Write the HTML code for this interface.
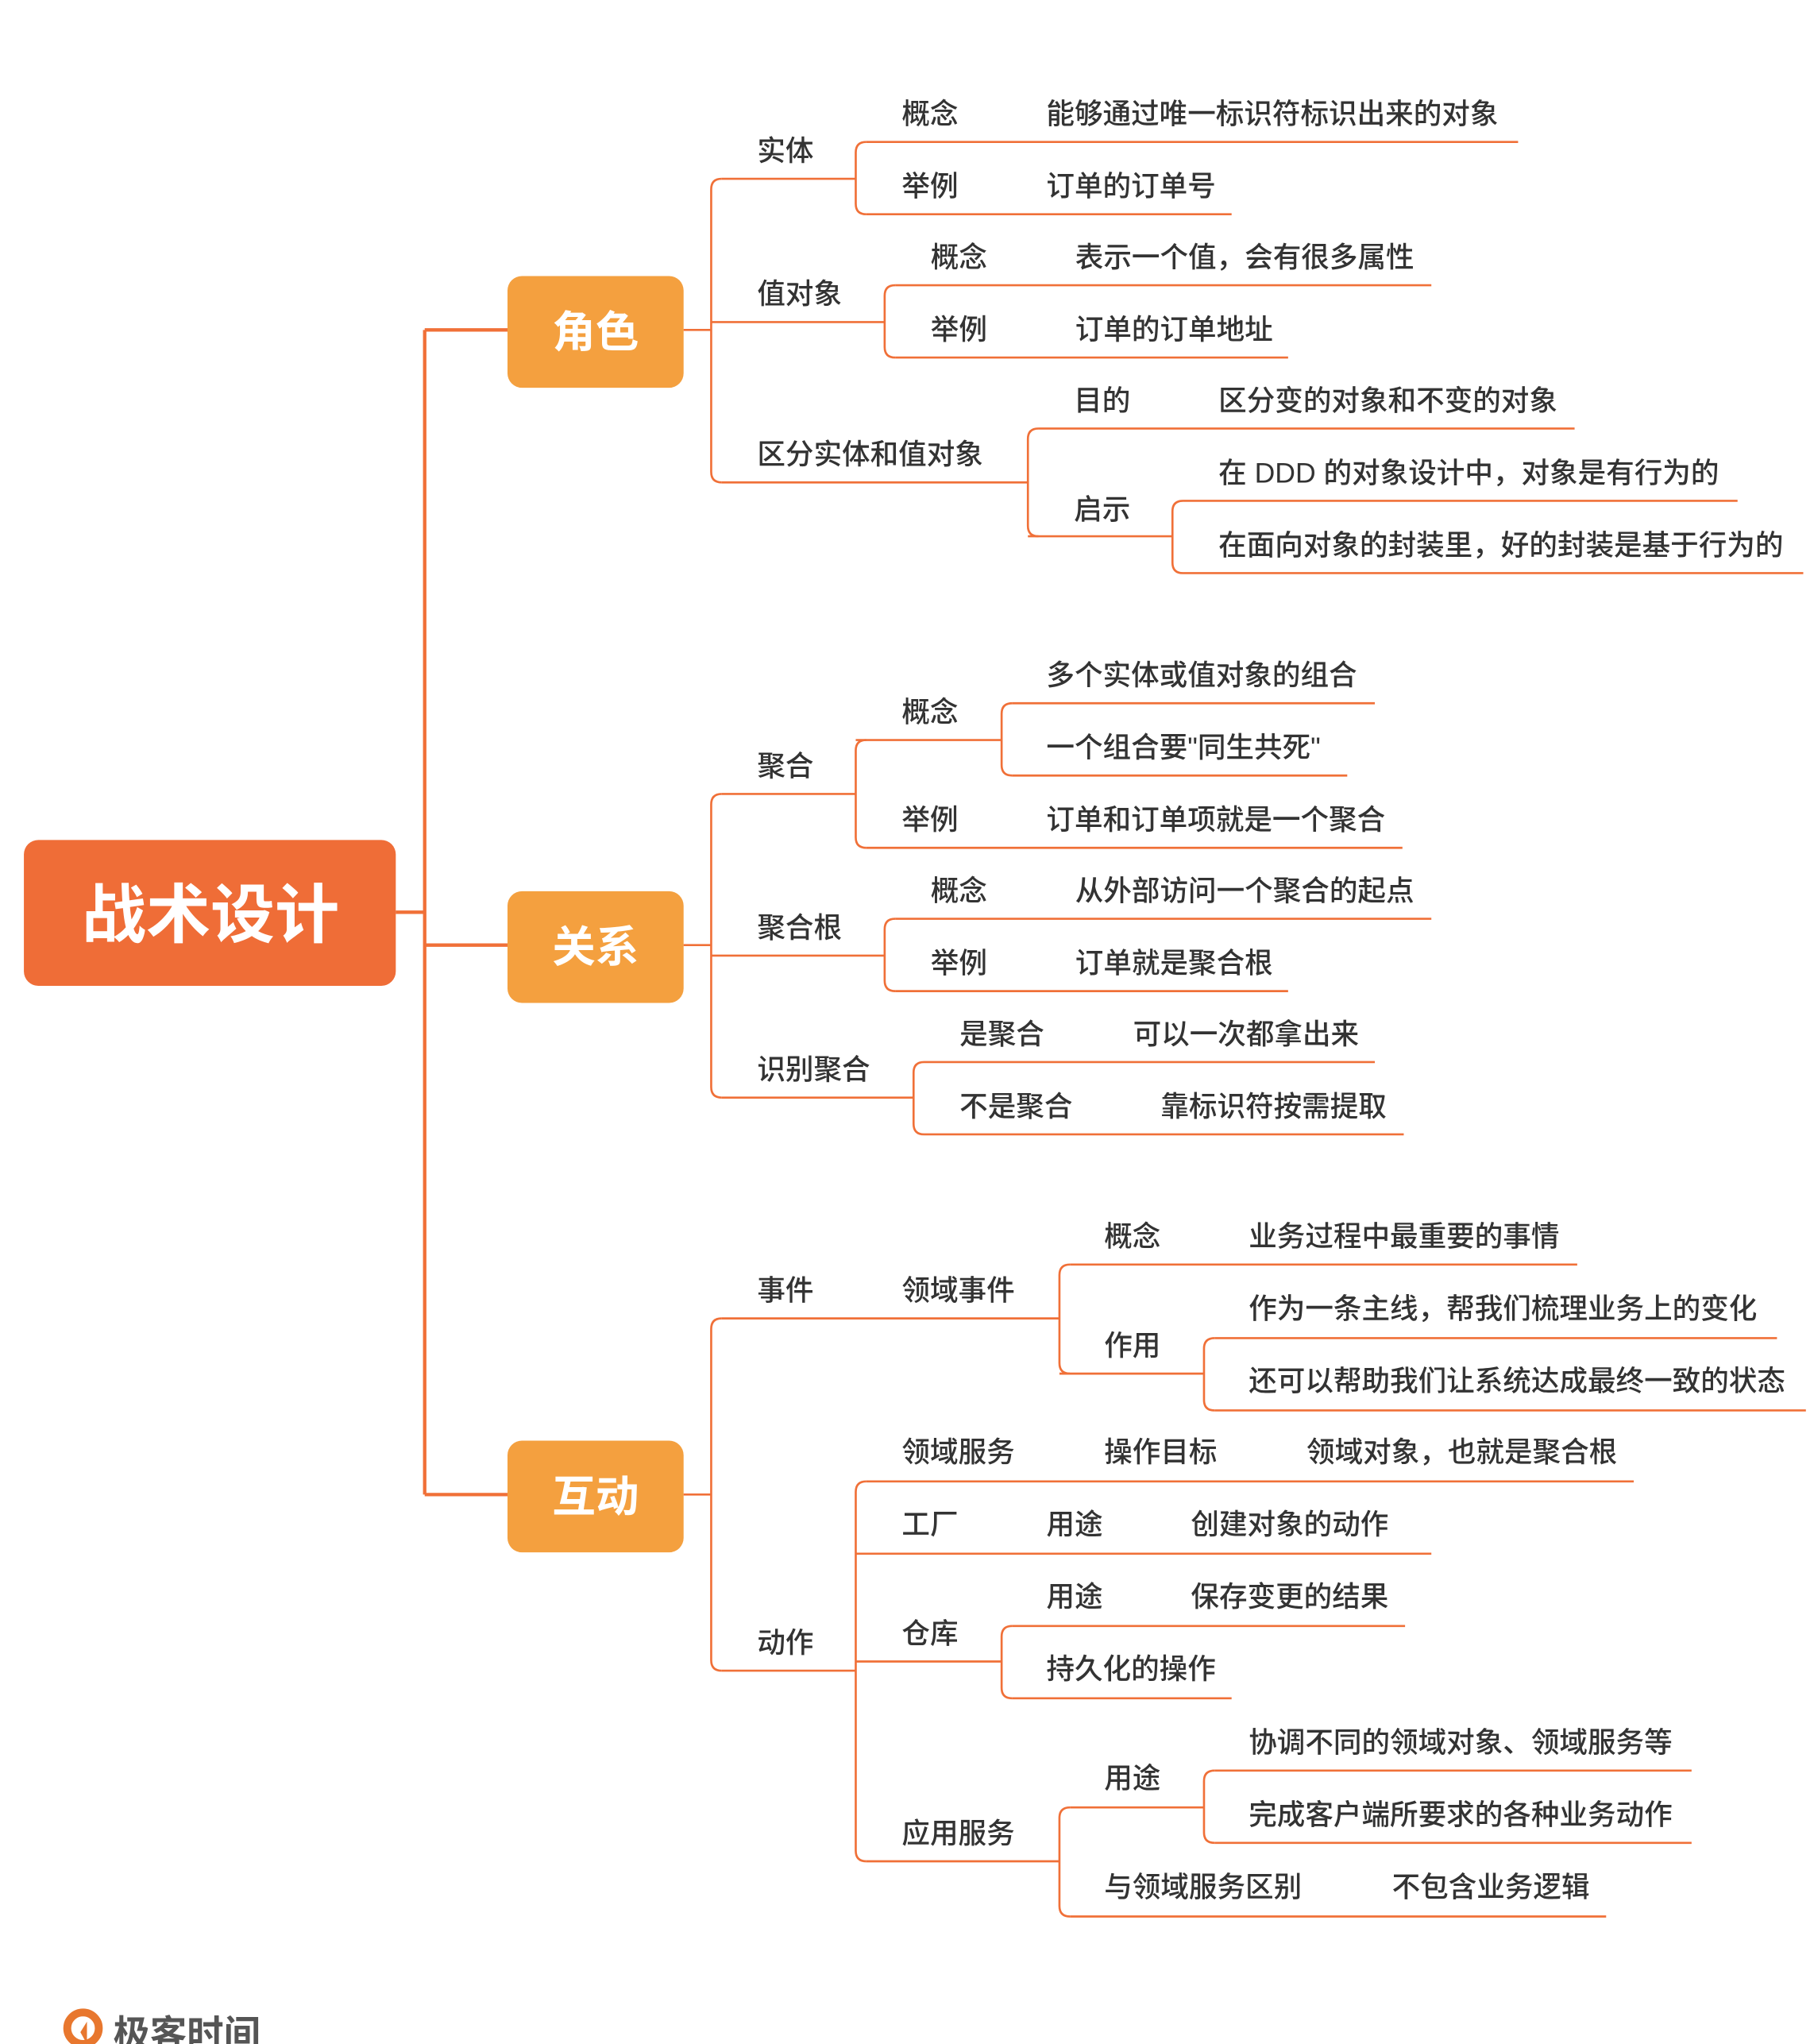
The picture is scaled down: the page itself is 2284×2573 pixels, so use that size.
<!DOCTYPE html>
<html><head><meta charset="utf-8"><style>
html,body{margin:0;padding:0;background:#fff;}
svg{display:block;}
text{font-family:"Liberation Sans","Noto Sans CJK SC",sans-serif;}
.t{font-size:21.5px;fill:#333;font-weight:500;}
.l{stroke:#F07038;stroke-width:1.6;fill:none;}
.m{stroke:#F07038;stroke-width:2.6;fill:none;}
.bt{font-size:33px;fill:#fff;font-weight:bold;text-anchor:middle;}
</style></head><body>
<svg width="2284" height="2573" viewBox="0 0 1380 1555" xmlns="http://www.w3.org/2000/svg">
<rect x="18" y="639" width="283" height="111" rx="11" fill="#EF6D37"/>
<text x="160" y="713" font-size="49" fill="#fff" font-weight="bold" text-anchor="middle" style="font-family:'Liberation Sans','Noto Sans CJK SC',sans-serif">战术设计</text>
<path class="m" d="M301 694 H323 M323 251 V1137 M323 251 H386 M323 719 H386 M323 1137 H386"/>
<rect x="386" y="210" width="134" height="85" rx="11" fill="#F4A03F"/>
<text class="bt" x="453" y="264">角色</text>
<rect x="386" y="678" width="134" height="85" rx="11" fill="#F4A03F"/>
<text class="bt" x="453" y="732">关系</text>
<rect x="386" y="1096" width="134" height="85" rx="11" fill="#F4A03F"/>
<text class="bt" x="453" y="1150">互动</text>
<path class="l" d="M520 251 H541 M520 719 H541 M520 1137 H541"/>

<path class="l" d="
M549 136 Q541 136 541 144 V359 Q541 367 549 367
M659 108 Q651 108 651 116 V155 Q651 163 659 163
M681 217 Q673 217 673 225 V264 Q673 272 681 272
M790 326 Q782 326 782 334 V400 Q782 408 790 408
M900 381 Q892 381 892 389 V428 Q892 436 900 436
M549 604 Q541 604 541 612 V827 Q541 835 549 835
M659 563 Q651 563 651 571 V637 Q651 645 659 645
M770 535 Q762 535 762 543 V582 Q762 590 770 590
M681 699 Q673 699 673 707 V746 Q673 754 681 754
M703 808 Q695 808 695 816 V855 Q695 863 703 863
M549 1003 Q541 1003 541 1011 V1263 Q541 1271 549 1271
M814 962 Q806 962 806 970 V1037 Q806 1045 814 1045
M924 1018 Q916 1018 916 1026 V1065 Q916 1073 924 1073
M659 1127 Q651 1127 651 1135 V1408 Q651 1416 659 1416
M770 1237 Q762 1237 762 1245 V1284 Q762 1292 770 1292
M814 1375 Q806 1375 806 1383 V1450 Q806 1458 814 1458
M924 1347 Q916 1347 916 1355 V1394 Q916 1402 924 1402
"/>
<path class="l" d="
M549 136 H651 M659 108 H1155 M659 163 H937
M541 245 H673 M681 217 H1089 M681 272 H980
M549 367 H782 M790 326 H1198 M782 408 H892 M900 381 H1322 M900 436 H1372
M549 604 H651 M651 563 H762 M770 535 H1046 M770 590 H1025 M659 645 H1067
M541 727 H673 M681 699 H1089 M681 754 H980
M549 835 H695 M703 808 H1046 M703 863 H1068
M549 1003 H806 M814 962 H1200 M806 1045 H916 M924 1018 H1352 M924 1073 H1374
M549 1271 H651 M659 1127 H1243 M651 1182 H1089 M651 1264 H762 M770 1237 H1069 M770 1292 H937
M659 1416 H806 M814 1375 H916 M924 1347 H1287 M924 1402 H1287 M814 1458 H1222
"/>
<g class="t">
<text x="576" y="122">实体</text>
<text x="686" y="94">概念</text><text x="796" y="94">能够通过唯一标识符标识出来的对象</text>
<text x="686" y="149">举例</text><text x="796" y="149">订单的订单号</text>
<text x="576" y="231">值对象</text>
<text x="708" y="203">概念</text><text x="818" y="203">表示一个值，会有很多属性</text>
<text x="708" y="258">举例</text><text x="818" y="258">订单的订单地址</text>
<text x="576" y="353">区分实体和值对象</text>
<text x="817" y="312">目的</text><text x="927" y="312">区分变的对象和不变的对象</text>
<text x="817" y="395">启示</text>
<text x="927" y="367">在 DDD 的对象设计中，对象是有行为的</text>
<text x="927" y="422">在面向对象的封装里，好的封装是基于行为的</text>

<text x="576" y="590">聚合</text>
<text x="686" y="549">概念</text>
<text x="796" y="521">多个实体或值对象的组合</text>
<text x="796" y="576">一个组合要"同生共死"</text>
<text x="686" y="631">举例</text><text x="796" y="631">订单和订单项就是一个聚合</text>
<text x="576" y="713">聚合根</text>
<text x="708" y="685">概念</text><text x="818" y="685">从外部访问一个聚合的起点</text>
<text x="708" y="740">举例</text><text x="818" y="740">订单就是聚合根</text>
<text x="576" y="821">识别聚合</text>
<text x="730" y="794">是聚合</text><text x="862" y="794">可以一次都拿出来</text>
<text x="730" y="849">不是聚合</text><text x="883" y="849">靠标识符按需提取</text>

<text x="576" y="989">事件</text><text x="686" y="989">领域事件</text>
<text x="840" y="948">概念</text><text x="950" y="948">业务过程中最重要的事情</text>
<text x="840" y="1031">作用</text>
<text x="950" y="1003">作为一条主线，帮我们梳理业务上的变化</text>
<text x="950" y="1058">还可以帮助我们让系统达成最终一致的状态</text>
<text x="576" y="1257">动作</text>
<text x="686" y="1112">领域服务</text><text x="840" y="1112">操作目标</text><text x="994" y="1112">领域对象，也就是聚合根</text>
<text x="686" y="1167">工厂</text><text x="796" y="1167">用途</text><text x="906" y="1167">创建对象的动作</text>
<text x="686" y="1250">仓库</text>
<text x="796" y="1222">用途</text><text x="906" y="1222">保存变更的结果</text>
<text x="796" y="1277">持久化的操作</text>
<text x="686" y="1402">应用服务</text>
<text x="840" y="1360">用途</text>
<text x="950" y="1333">协调不同的领域对象、领域服务等</text>
<text x="950" y="1388">完成客户端所要求的各种业务动作</text>
<text x="840" y="1443">与领域服务区别</text><text x="1059" y="1443">不包含业务逻辑</text>
</g>
<circle cx="63" cy="1543" r="12" fill="none" stroke="#E8772E" stroke-width="6"/>
<path d="M55 1562 Q63 1568 72 1560 L66 1560 Q63 1562 60 1560 Z" fill="#E8772E"/>
<path d="M61 1546 L66 1538 L66 1555 Z" fill="#E8772E"/>
<text x="86" y="1557" font-size="28" font-weight="bold" fill="#555" style="font-family:'Liberation Sans','Noto Sans CJK SC',sans-serif">极客时间</text>
</svg>
</body></html>
